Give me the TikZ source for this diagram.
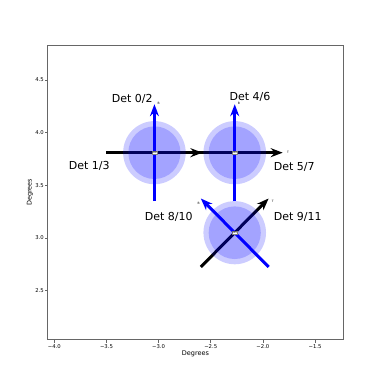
\documentclass[tikz,border=0pt]{standalone}
\usepackage{fontspec}
\setmainfont{DejaVu Sans}
\usetikzlibrary{arrows.meta, calc}

\begin{document}
\begin{tikzpicture}[
  x=104.3pt, y=105.3pt,
  every node/.style={inner sep=0pt},
  %% plot element styles
  fov/.style={fill=blue, fill opacity=0.2, draw=none},
  blkarr/.style={-{Stealth[length=12pt, width=9pt, inset=4pt]},
    line width=3pt, draw=black},
  bluarr/.style={blkarr, draw=blue},
  detlbl/.style={font=\fontsize{11}{13}\selectfont},
  tiplbl/.style={font=\fontsize{3}{3.5}\selectfont},
  ctrlbl/.style={fill=white, draw=gray, line width=0.2pt,
    inner sep=0.4pt, font=\fontsize{2.4}{2.8}\selectfont},
  ticklbl/.style={font=\fontsize{5.3}{6}\selectfont},
  axlbl/.style={font=\fontsize{6.5}{7.5}\selectfont},
  frame/.style={draw=black!60, line width=0.8pt},
]
\useasboundingbox (-4.5206,1.6325) rectangle (-0.858,5.260);

%% =========================================================
%% AXES — frame, ticks and labels
%% =========================================================
\draw[frame] (-4.063,2.038) rectangle (-1.229,4.832);
\foreach \t/\s in {-4.0/−4.0, -3.5/−3.5, -3.0/−3.0,
                   -2.5/−2.5, -2.0/−2.0, -1.5/−1.5} {
  \draw[frame, line width=0.6pt] (\t,2.038) -- ++(0,-3.5pt)
    node[ticklbl, anchor=north, yshift=-1.2pt] {\s};
}
\foreach \t in {2.5, 3.0, 3.5, 4.0, 4.5} {
  \draw[frame, line width=0.6pt] (-4.063,\t) -- ++(-2.5pt,0)
    node[ticklbl, anchor=east, xshift=-1.2pt] {\t};
}
\node[axlbl] (xlab) at (-2.646,1.898) {Degrees};
\node[axlbl, rotate=90] (ylab) at (-4.233,3.435) {Degrees};

%% =========================================================
%% FIELDS OF VIEW — centres and arrow ends
%% =========================================================
\coordinate (fovA) at (-3.04,3.81);
\coordinate (fovB) at (-2.27,3.81);
\coordinate (fovC) at (-2.27,3.05);

\coordinate (A-l) at ($(fovA)+(-0.46,0)$);
\coordinate (A-r) at ($(fovA)+( 0.46,0)$);
\coordinate (A-d) at ($(fovA)+(0,-0.46)$);
\coordinate (A-u) at ($(fovA)+(0, 0.46)$);
\coordinate (B-l) at ($(fovB)+(-0.46,0)$);
\coordinate (B-r) at ($(fovB)+( 0.46,0)$);
\coordinate (B-d) at ($(fovB)+(0,-0.46)$);
\coordinate (B-u) at ($(fovB)+(0, 0.46)$);
\coordinate (C-dl) at ($(fovC)+(-0.325,-0.325)$);
\coordinate (C-ur) at ($(fovC)+( 0.325, 0.325)$);
\coordinate (C-dr) at ($(fovC)+( 0.325,-0.325)$);
\coordinate (C-ul) at ($(fovC)+(-0.325, 0.325)$);

%% T arrows (black), then B arrows (blue)
\draw[blkarr] (A-l) -- (A-r);
\draw[blkarr] (B-l) -- (B-r);
\draw[blkarr] (C-dl) -- (C-ur);
\draw[bluarr] (A-d) -- (A-u);
\draw[bluarr] (B-d) -- (B-u);
\draw[bluarr] (C-dr) -- (C-ul);

%% translucent discs on top
\foreach \f in {fovA, fovB, fovC} {
  \fill[fov] (\f) circle [radius=0.3];
  \fill[fov] (\f) circle [radius=0.25];
}

%% centre tags
\node[ctrlbl] (tagA) at (fovA) {008};
\node[ctrlbl] (tagB) at (fovB) {009};
\node[ctrlbl] (tagC) at (fovC) {005};

%% tip letters
\node[tiplbl] (bA) at ($(A-u)+(0.04,0.01)$) {B};
\node[tiplbl] (bB) at ($(B-u)+(0.04,0.01)$) {B};
\node[tiplbl] (tB) at ($(B-r)+(0.05,0.007)$) {T};
\node[tiplbl] (bC) at ($(C-ul)+(-0.02,-0.05)$) {B};
\node[tiplbl] (tC) at ($(C-ur)+(0.04,-0.03)$) {T};

%% =========================================================
%% DETECTOR LABELS
%% =========================================================
\node[detlbl] (det02)  at (-3.252,4.323) {Det 0/2};
\node[detlbl] (det46)  at (-2.124,4.342) {Det 4/6};
\node[detlbl] (det13)  at (-3.664,3.684) {Det 1/3};
\node[detlbl] (det57)  at (-1.699,3.677) {Det 5/7};
\node[detlbl] (det810) at (-2.903,3.202) {Det 8/10};
\node[detlbl] (det911) at (-1.666,3.202) {Det 9/11};

\end{tikzpicture}
\end{document}
